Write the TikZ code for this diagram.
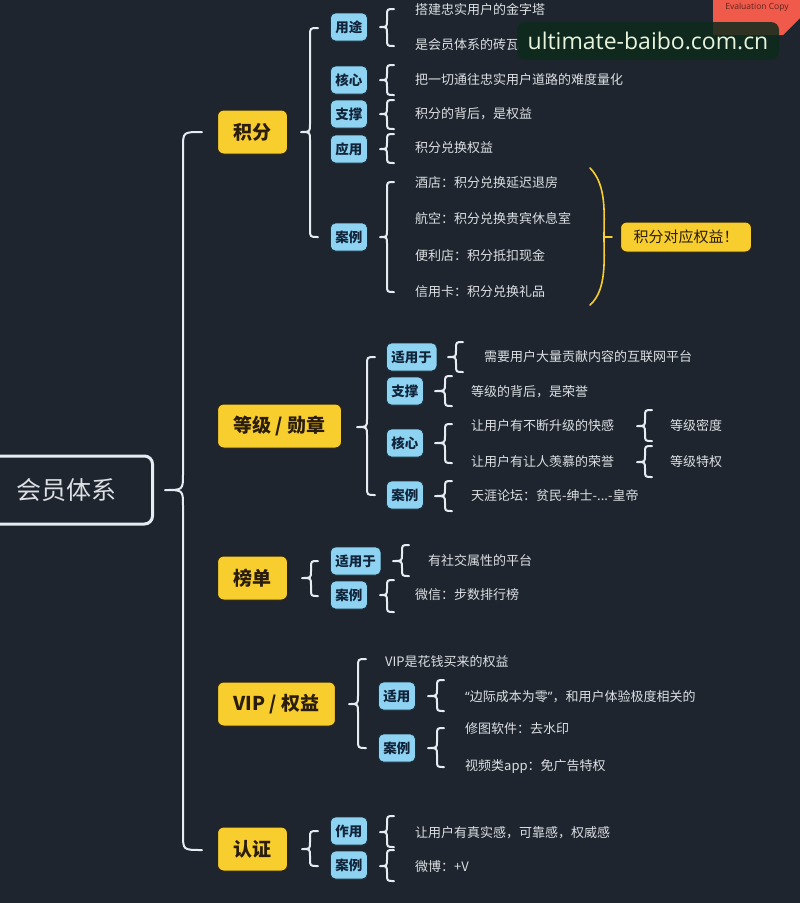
\documentclass[tikz,border=0pt]{standalone}
\usepackage{fontspec}
\setmainfont{Noto Sans CJK SC}
\newfontfamily\wmfont{Open Sans}
\newfontfamily\qfont{Noto Sans}
\definecolor{bg}{HTML}{1E252E}
\definecolor{yel}{HTML}{F8CE2E}
\definecolor{ydark}{HTML}{2A2410}
\definecolor{ytext}{HTML}{2B1D0E}
\definecolor{blu}{HTML}{8ED4F2}
\definecolor{bdark}{HTML}{17303F}
\definecolor{btext}{HTML}{12243A}
\definecolor{tcol}{HTML}{DCE0E4}
\definecolor{lcol}{HTML}{E6ECF1}
\definecolor{wmgreen}{HTML}{0E2A1C}
\definecolor{wmtext}{HTML}{E8F5DC}
\definecolor{evred}{HTML}{F05A4A}
\newcommand{\mybrace}[7]{% tipx, linex, endx, ytop, ymid, ybot, r
  \draw[brc] (#3,#4) .. controls (#2,#4) .. (#2,#4+#7) -- (#2,#5-#7)
    .. controls (#2,#5) .. (#1,#5) .. controls (#2,#5) .. (#2,#5+#7)
    -- (#2,#6-#7) .. controls (#2,#6) .. (#3,#6);}
\begin{document}
\begin{tikzpicture}[x=1pt,y=-1pt,
  lvl1/.style={draw=ydark, line width=1pt, fill=yel, rounded corners=6pt, text=ytext,
    font=\fontsize{19}{19}\selectfont\bfseries, minimum height=44pt, inner xsep=16pt, anchor=west},
  lvl2/.style={draw=bdark, line width=0.8pt, fill=blu, rounded corners=5pt, text=btext,
    font=\fontsize{13.5}{14}\selectfont\bfseries, minimum height=28pt, inner xsep=5pt, anchor=west},
  txt/.style={text=tcol, font=\fontsize{13}{13}\selectfont, anchor=west, inner sep=0pt},
  brc/.style={draw=lcol, line width=2pt, line cap=round, line join=round},
  ybrc/.style={draw=yel, line width=1.6pt, line cap=round}]
\fill[bg] (0,0) rectangle (800,903);
\useasboundingbox (0,0) rectangle (800,903);

% root
\node[draw=lcol, line width=3pt, rounded corners=8pt, minimum width=172pt, minimum height=68pt,
  text=tcol, font=\fontsize{25}{25}\selectfont, anchor=east] (root) at (154,490) {会员体系};
\mybrace{165}{183}{202}{132}{490}{850}{16}

% 积分
\node[lvl1] (jf) at (217,132) {积分};
\mybrace{301}{310}{318}{28}{132}{237}{8}
\node[lvl2] (jf1) at (330,27) {用途};
\node[lvl2] (jf2) at (330,80) {核心};
\node[lvl2] (jf3) at (330,114) {支撑};
\node[lvl2] (jf4) at (330,149) {应用};
\node[lvl2] (jf5) at (330,237) {案例};
\mybrace{380}{387}{394}{9}{27}{46}{7}
\mybrace{380}{387}{394}{65}{80}{95}{7}
\mybrace{380}{387}{394}{100}{114}{129}{7}
\mybrace{380}{387}{394}{134}{149}{163}{7}
\mybrace{380}{387}{394}{182}{237}{292}{7}
\node[txt] (t1) at (415,10) {搭建忠实用户的金字塔};
\node[txt] (t2) at (415,45) {是会员体系的砖瓦};
\node[txt] (t3) at (415,80) {把一切通往忠实用户道路的难度量化};
\node[txt] (t4) at (415,114) {积分的背后，是权益};
\node[txt] (t5) at (415,148) {积分兑换权益};
\node[txt] (t6) at (415,183) {酒店：积分兑换延迟退房};
\node[txt] (t7) at (415,219) {航空：积分兑换贵宾休息室};
\node[txt] (t8) at (415,256) {便利店：积分抵扣现金};
\node[txt] (t9) at (415,292) {信用卡：积分兑换礼品};
\draw[ybrc] (590,168) .. controls (607,185) and (604,215) .. (604,237)
  .. controls (604,259) and (607,290) .. (590,305);
\node[draw=ydark, line width=1pt, fill=yel, rounded corners=6pt, text=ytext,
  font=\fontsize{15}{15}\selectfont, minimum width=131pt, minimum height=30pt, anchor=west]
  (jfq) at (620,237) {积分对应权益！};
\draw[ybrc] (604,237) -- (612,237);

% 等级 / 勋章
\node[lvl1] (dj) at (217,426) {等级 / 勋章};
\mybrace{357}{367}{375}{357}{427}{495}{8}
\node[lvl2] (dj1) at (386,357) {适用于};
\node[lvl2] (dj2) at (386,391) {支撑};
\node[lvl2] (dj3) at (386,443) {核心};
\node[lvl2] (dj4) at (386,495) {案例};
\mybrace{448}{456}{463}{342}{357}{372}{7}
\mybrace{435}{445}{452}{376}{391}{406}{7}
\mybrace{435}{445}{452}{424}{443}{463}{7}
\mybrace{435}{445}{452}{481}{496}{511}{7}
\mybrace{637}{645}{652}{410}{426}{441}{7}
\mybrace{637}{645}{652}{446}{462}{477}{7}
\node[txt] (u1) at (484,357) {需要用户大量贡献内容的互联网平台};
\node[txt] (u2) at (471,392) {等级的背后，是荣誉};
\node[txt] (u3) at (471,426) {让用户有不断升级的快感};
\node[txt] (u4) at (471,462) {让用户有让人羡慕的荣誉};
\node[txt] (u5) at (670,426) {等级密度};
\node[txt] (u6) at (670,462) {等级特权};
\node[txt] (u7) at (471,496) {天涯论坛：贫民-绅士-...-皇帝};

% 榜单
\node[lvl1] (bd) at (217,578) {榜单};
\mybrace{302}{311}{318}{561}{578}{596}{7}
\node[lvl2] (bd1) at (330,561) {适用于};
\node[lvl2] (bd2) at (330,595) {案例};
\mybrace{393}{402}{409}{545}{561}{576}{7}
\mybrace{380}{387}{394}{580}{595}{612}{7}
\node[txt] (v1) at (428,561) {有社交属性的平台};
\node[txt] (v2) at (415,595) {微信：步数排行榜};

% VIP / 权益
\node[lvl1] (vip) at (217,704) {VIP / 权益};
\mybrace{349}{358}{366}{659}{704}{748}{8}
\node[txt] (w0) at (385,662) {VIP是花钱买来的权益};
\node[lvl2] (vip1) at (378,696) {适用};
\node[lvl2] (vip2) at (378,748) {案例};
\mybrace{428}{437}{444}{680}{696}{711}{7}
\mybrace{428}{437}{444}{728}{748}{767}{7}
\node[txt] (w1) at (465,697) {{\qfont “}边际成本为零{\qfont ”}，和用户体验极度相关的};
\node[txt] (w2) at (465,729) {修图软件：去水印};
\node[txt] (w3) at (465,766) {视频类app：免广告特权};

% 认证
\node[lvl1] (rz) at (217,849) {认证};
\mybrace{302}{310}{318}{831}{849}{866}{7}
\node[lvl2] (rz1) at (330,831) {作用};
\node[lvl2] (rz2) at (330,865) {案例};
\mybrace{380}{387}{394}{816}{832}{847}{7}
\mybrace{380}{387}{394}{850}{866}{881}{7}
\node[txt] (x1) at (415,833) {让用户有真实感，可靠感，权威感};
\node[txt] (x2) at (415,867) {微博：+V};

% overlays
\fill[evred] (713,0) -- (800,0) -- (800,18) -- (783,35) -- (713,35) -- cycle;
\node[text=evred!40!black, font=\wmfont\fontsize{8.5}{8.5}\selectfont] (ev) at (757,7) {Evaluation Copy};
\node[fill=wmgreen, fill opacity=0.85, text opacity=1, text=wmtext, rounded corners=8pt,
  minimum width=262pt, minimum height=38pt, font=\wmfont\fontsize{23}{23}\selectfont]
  (wm) at (648,41) {ultimate-baibo.com.cn};
\end{tikzpicture}
\end{document}
